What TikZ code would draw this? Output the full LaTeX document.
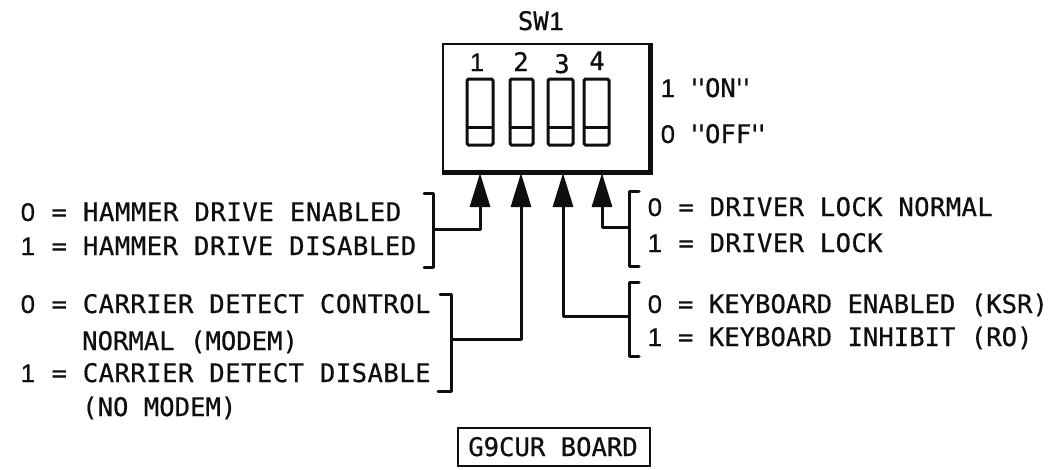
\documentclass[tikz,border=0pt]{standalone}
\usepackage{fontspec}
\newfontfamily\lettering[FakeBold=0.6]{DejaVu Sans Mono}
\newfontfamily\digitface[FakeBold=0.6]{Liberation Sans}
\newcommand{\dz}{\makebox[0.602em]{\digitface 0}}
\newcommand{\da}{\makebox[0.602em]{\digitface 1}}
\newcommand{\qs}{\makebox[7pt]{'}\makebox[7pt]{'}}
\newcommand{\spaced}[1]{\addfontfeature{LetterSpace=#1}}
\usetikzlibrary{arrows.meta}
\definecolor{ink}{gray}{0.06}
\tikzset{
  lab/.style={anchor=base west,inner sep=0pt,font=\lettering\fontsize{25.6}{28}\selectfont,text=ink},
  ctr/.style={anchor=base,inner sep=0pt,font=\lettering\fontsize{25.6}{28}\selectfont,text=ink},
  wire/.style={draw=ink,line width=3pt,line join=round},
  feed/.style={wire,-{Triangle[length=34pt,width=20pt]}},
  brk/.style={draw=ink,line width=3pt,line join=round,line cap=round},
  dip/.style={draw=ink,line width=3pt,rounded corners=1.5pt},
  boxed/.style={draw=ink,line width=2.8pt,inner sep=0pt,minimum width=192pt,minimum height=38pt}
}
\begin{document}
\begin{tikzpicture}[x=1pt,y=-1pt]
\useasboundingbox (0,0) rectangle (1060,469);
\fill[white] (0,0) rectangle (1060,469);
% switch body
\node[draw=ink,line width=2.8pt,inner sep=0pt,minimum width=206pt,minimum height=127pt] (body) at (546,107.5) {};
\draw[ink,line width=4.5pt,line join=miter] (body.north east) -- (body.south east) -- (body.south west);
% label
\node[ctr] (sw) at (541,30) {SW\da};
\node[ctr] (n1) at (477,71) {\da};
\node[ctr] (n2) at (521,71) {2};
\node[ctr] (n3) at (562,73) {3};
\node[ctr] (n4) at (597,70) {4};
\node[lab] (on) at (660,97) {\da\ \qs ON\qs};
\node[lab] (off) at (660,143) {\dz\ \qs OFF\qs};
% switches
\foreach \nm/\xa/\xb in {a/467/493,b/510/533,c/548/573,d/584/609}{
  \draw[dip] (\xa,79) rectangle (\xb,145);
  \draw[ink,line width=3pt] (\xa,127.5) -- (\xb,127.5);
}
% arrow tips on the body
\coordinate (t1) at (480,173);
\coordinate (t2) at (521,173);
\coordinate (t3) at (563,173);
\coordinate (t4) at (602,173);
% brackets
\coordinate (bl1) at (433,229);
\coordinate (bl2) at (451,339);
\coordinate (br1) at (629,227);
\coordinate (br2) at (629,316);
\draw[brk] (424,193) -- (433,193) -- (433,267) -- (424,267);
\draw[brk] (440,294) -- (451,294) -- (451,391) -- (438,391);
\draw[brk] (639,191) -- (629,191) -- (629,266) -- (639,266);
\draw[brk] (639,282) -- (629,282) -- (629,356) -- (639,356);
% connectors
\draw[feed] (bl1) -| (t1);
\draw[feed] (bl2) -| (t2);
\draw[feed] (br2) -| (t3);
\draw[feed] (br1) -| (t4);
% left text
\node[lab] (l1) at (20,221) {\spaced{2.3}\dz\ = HAMMER DRIVE ENABLED};
\node[lab] (l2) at (20,255) {\spaced{2.1}\da\ = HAMMER DRIVE DISABLED};
\node[lab] (l3) at (20,313) {\spaced{1.8}\dz\ = CARRIER DETECT CONTROL};
\node[lab] (l4) at (82,350) {NORMAL (MODEM)};
\node[lab] (l5) at (20,382) {\spaced{1.8}\da\ = CARRIER DETECT DISABLE};
\node[lab] (l6) at (82,416) {(NO MODEM)};
% right text
\node[lab] (r1) at (647,216) {\spaced{1.5}\dz\ = DRIVER LOCK NORMAL};
\node[lab] (r2) at (647,252) {\spaced{1.5}\da\ = DRIVER LOCK};
\node[lab] (r3) at (647,313) {\dz\ = KEYBOARD ENABLED (KSR)};
\node[lab] (r4) at (647,346) {\da\ = KEYBOARD INHIBIT (RO)};
% board
\node[boxed] (board) at (554,447) {};
\node[ctr] (bt) at (553,456) {G9CUR BOARD};
\end{tikzpicture}
\end{document}
